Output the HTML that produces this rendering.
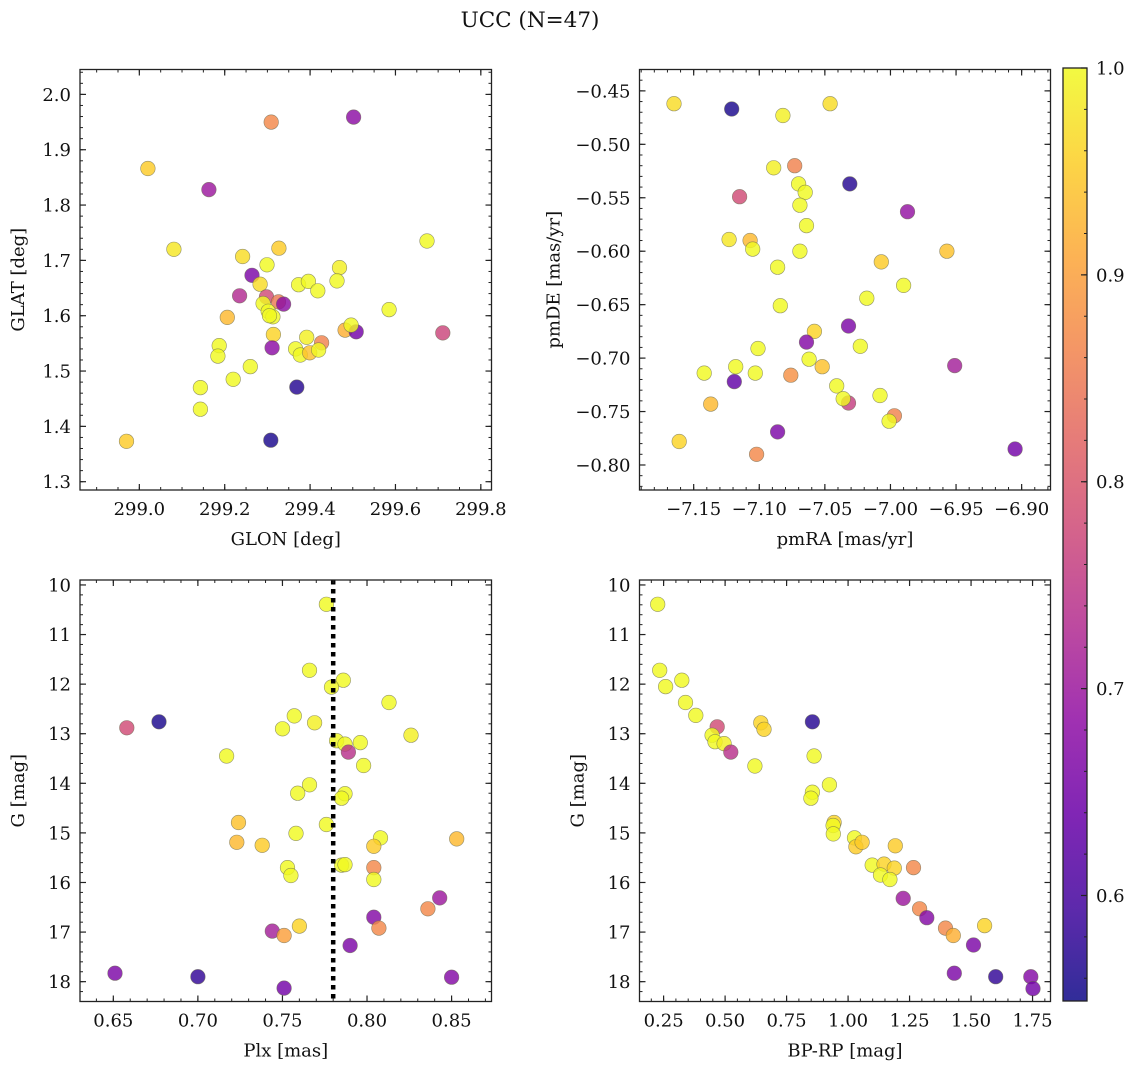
<!DOCTYPE html>
<html><head><meta charset="utf-8"><style>
html,body{margin:0;padding:0;background:#fff;}
svg text{font-family:"DejaVu Serif","Liberation Serif",serif;fill:#111;}
</style></head><body>
<svg id="fig" width="1136" height="1068" viewBox="0 0 1136 1068" xmlns="http://www.w3.org/2000/svg">
<defs><linearGradient id="plasma" x1="0" y1="1" x2="0" y2="0">
<stop offset="0" stop-color="#0d0887"/><stop offset="0.1" stop-color="#41049d"/><stop offset="0.2" stop-color="#6a00a8"/><stop offset="0.3" stop-color="#8f0da4"/><stop offset="0.4" stop-color="#b12a90"/><stop offset="0.5" stop-color="#cc4778"/><stop offset="0.6" stop-color="#e16462"/><stop offset="0.7" stop-color="#f2844b"/><stop offset="0.8" stop-color="#fca636"/><stop offset="0.9" stop-color="#fcce25"/><stop offset="1" stop-color="#f0f921"/></linearGradient></defs>
<text x="530" y="27" font-size="21.5" text-anchor="middle">UCC (N=47)</text>
</svg>
<script>
// Panel 1: GLON vs GLAT
const p1x=[299.309,299.502,299.020,299.163,299.081,299.674,299.242,299.327,299.299,299.264,299.283,299.373,299.396,299.469,299.463,299.418,299.235,299.298,299.290,299.326,299.338,299.302,299.313,299.206,299.585,299.314,299.482,299.508,299.496,299.711,299.187,299.311,299.392,299.427,299.366,299.377,299.399,299.420,299.184,299.260,299.220,299.143,299.369,299.143,298.970,299.308,299.305];
const p1y=[1.950,1.959,1.866,1.828,1.720,1.735,1.707,1.722,1.692,1.673,1.657,1.656,1.662,1.687,1.663,1.645,1.636,1.634,1.622,1.625,1.621,1.608,1.598,1.597,1.611,1.566,1.574,1.571,1.583,1.569,1.546,1.542,1.561,1.551,1.540,1.529,1.533,1.538,1.527,1.508,1.485,1.470,1.471,1.431,1.373,1.375,1.600];
const p1c=[0.87,0.68,0.95,0.70,0.98,1.0,0.97,0.95,1.0,0.66,0.97,1.0,1.0,0.99,1.0,1.0,0.73,0.78,1.0,0.85,0.68,1.0,1.0,0.93,1.0,0.96,0.92,0.65,1.0,0.77,1.0,0.68,0.99,0.86,1.0,1.0,0.94,1.0,1.0,1.0,1.0,1.0,0.57,1.0,0.95,0.56,1.0];
const p1xt=[299.0,299.2,299.4,299.6,299.8];
const p1yt=[1.3,1.4,1.5,1.6,1.7,1.8,1.9,2.0];
// Panel 2: pmRA vs pmDE
const p2x=[-7.165,-7.121,-7.082,-7.046,-7.089,-7.073,-7.031,-7.115,-7.070,-7.065,-7.069,-7.064,-6.987,-7.123,-7.107,-7.105,-7.069,-6.957,-7.086,-7.007,-6.990,-7.018,-7.084,-7.058,-7.032,-7.064,-7.023,-7.101,-7.062,-7.052,-7.118,-6.951,-7.142,-7.103,-7.076,-7.119,-7.041,-7.032,-7.036,-7.137,-7.008,-6.997,-7.001,-7.086,-7.161,-7.102,-6.905];
const p2y=[-0.462,-0.467,-0.473,-0.462,-0.522,-0.520,-0.537,-0.549,-0.537,-0.545,-0.557,-0.576,-0.563,-0.589,-0.590,-0.598,-0.600,-0.600,-0.615,-0.610,-0.632,-0.644,-0.651,-0.675,-0.670,-0.685,-0.689,-0.691,-0.701,-0.708,-0.708,-0.707,-0.714,-0.714,-0.716,-0.722,-0.726,-0.742,-0.738,-0.743,-0.735,-0.754,-0.759,-0.769,-0.778,-0.790,-0.785];
const p2c=[0.97,0.56,0.99,0.97,0.99,0.86,0.57,0.78,1.0,1.0,1.0,1.0,0.69,0.98,0.93,1.0,1.0,0.94,1.0,0.95,1.0,1.0,1.0,0.96,0.66,0.67,1.0,1.0,1.0,0.94,1.0,0.71,1.0,1.0,0.88,0.63,1.0,0.76,1.0,0.93,1.0,0.86,1.0,0.66,0.96,0.87,0.65];
const p2xt=[-7.15,-7.10,-7.05,-7.00,-6.95,-6.90];
const p2yt=[-0.80,-0.75,-0.70,-0.65,-0.60,-0.55,-0.50,-0.45];
// Panel 3: Plx vs G
const p3x=[0.776,0.766,0.786,0.779,0.813,0.757,0.769,0.750,0.826,0.658,0.677,0.782,0.787,0.796,0.789,0.717,0.798,0.766,0.759,0.787,0.785,0.724,0.776,0.758,0.723,0.738,0.808,0.804,0.853,0.753,0.755,0.785,0.787,0.804,0.804,0.843,0.836,0.804,0.807,0.760,0.744,0.751,0.790,0.651,0.700,0.751,0.850];
const p3y=[10.39,11.72,11.92,12.06,12.37,12.64,12.78,12.90,13.03,12.88,12.76,13.14,13.21,13.18,13.37,13.45,13.64,14.03,14.20,14.21,14.30,14.79,14.83,15.01,15.19,15.25,15.10,15.27,15.12,15.70,15.86,15.65,15.64,15.70,15.94,16.31,16.53,16.70,16.92,16.88,16.98,17.07,17.27,17.83,17.90,18.13,17.91];
const p3c=[1.0,1.0,1.0,1.0,1.0,1.0,0.99,1.0,0.99,0.78,0.56,1.0,1.0,1.0,0.74,1.0,1.0,1.0,1.0,1.0,1.0,0.94,1.0,1.0,0.93,0.95,1.0,0.95,0.93,1.0,1.0,1.0,1.0,0.87,1.0,0.70,0.87,0.67,0.87,0.96,0.71,0.90,0.66,0.66,0.58,0.65,0.67];
const p3xt=[0.65,0.70,0.75,0.80,0.85];
const p3yt=[10,11,12,13,14,15,16,17,18];
const plxLine=0.78;
// Panel 4: BP-RP vs G
const p4x=[0.226,0.234,0.258,0.324,0.339,0.381,0.468,0.447,0.459,0.496,0.523,0.621,0.645,0.658,0.855,0.862,0.924,0.855,0.849,0.943,0.939,0.940,1.026,1.032,1.057,1.192,1.098,1.146,1.188,1.266,1.132,1.170,1.224,1.291,1.320,1.396,1.428,1.555,1.510,1.432,1.600,1.743,1.752];
const p4y=[10.39,11.72,12.05,11.92,12.37,12.63,12.86,13.03,13.16,13.20,13.37,13.65,12.78,12.91,12.76,13.45,14.03,14.18,14.30,14.79,14.85,15.02,15.10,15.28,15.19,15.26,15.65,15.63,15.71,15.70,15.85,15.94,16.32,16.53,16.71,16.92,17.07,16.87,17.26,17.83,17.90,17.90,18.14];
const p4c=[1.0,1.0,1.0,1.0,1.0,1.0,0.78,1.0,1.0,0.99,0.74,1.0,0.96,0.96,0.57,1.0,1.0,1.0,1.0,0.96,1.0,1.0,1.0,0.95,0.95,0.95,1.0,0.96,0.96,0.87,1.0,1.0,0.70,0.87,0.67,0.87,0.92,0.96,0.66,0.66,0.58,0.67,0.65];
const p4xt=[0.25,0.50,0.75,1.00,1.25,1.50,1.75];
const p4yt=[10,11,12,13,14,15,16,17,18];
// Colorbar
const cbTicks=[0.6,0.7,0.8,0.9,1.0];
const cbMin=0.549, cbMax=1.0;

const NS="http://www.w3.org/2000/svg";
const svg=document.getElementById('fig');
function el(tag,attrs,parent){const e=document.createElementNS(NS,tag);for(const k in attrs)e.setAttribute(k,attrs[k]);(parent||svg).appendChild(e);return e;}
const stops=[[0,13,8,135],[0.1,65,4,157],[0.2,106,0,168],[0.3,143,13,164],[0.4,177,42,144],[0.5,204,71,120],[0.6,225,100,98],[0.7,242,132,75],[0.8,252,166,54],[0.9,252,206,37],[1,240,249,33]];
function plasma(v){let t=(v-cbMin)/(cbMax-cbMin);t=Math.max(0,Math.min(1,t));for(let i=1;i<stops.length;i++){if(t<=stops[i][0]){const a=stops[i-1],b=stops[i],f=(t-a[0])/(b[0]-a[0]);return `rgb(${Math.round(a[1]+f*(b[1]-a[1]))},${Math.round(a[2]+f*(b[2]-a[2]))},${Math.round(a[3]+f*(b[3]-a[3]))})`;}}return 'rgb(240,249,33)';}
function fmt(v,d){const s=Math.abs(v).toFixed(d);return (v<0?'\u2212':'')+s;}
const FS=18;

function panel(o){
  const g=el('g',{});
  
  
  const sx=v=>o.L+(v-o.x0)/(o.x1-o.x0)*(o.R-o.L);
  const sy=o.inv?(v=>o.T+(v-o.y0)/(o.y1-o.y0)*(o.B-o.T)):(v=>o.B-(v-o.y0)/(o.y1-o.y0)*(o.B-o.T));
  for(let i=0;i<o.xs.length;i++){
    const c=el('circle',{cx:sx(o.xs[i]).toFixed(1),cy:sy(o.ys[i]).toFixed(1),r:7.3,fill:plasma(o.cs[i]),'fill-opacity':0.82,stroke:'#6a6a50','stroke-width':0.6,'stroke-opacity':0.7},g);
    
    
  }
  if(o.vline!==undefined){
    const ln=el('line',{x1:sx(o.vline),x2:sx(o.vline),y1:o.T,y2:o.B,stroke:'#000','stroke-width':4.5,'stroke-dasharray':'4.5 4.5'},g);
    
    
  }
  const fr=el('rect',{x:o.L,y:o.T,width:o.R-o.L,height:o.B-o.T,fill:'none',stroke:'#222','stroke-width':1.3},g);
  
  
  for(let v=Math.ceil(o.x0/o.xm-1e-6)*o.xm; v<=o.x1; v+=o.xm){const x=sx(v);el('line',{x1:x,x2:x,y1:o.B,y2:o.B-3,stroke:'#222','stroke-width':1},g);el('line',{x1:x,x2:x,y1:o.T,y2:o.T+3,stroke:'#222','stroke-width':1},g);}
  const ylo=Math.min(o.y0,o.y1),yhi=Math.max(o.y0,o.y1);
  for(let v=Math.ceil(ylo/o.ym-1e-6)*o.ym; v<=yhi; v+=o.ym){const y=sy(v);el('line',{x1:o.L,x2:o.L+3,y1:y,y2:y,stroke:'#222','stroke-width':1},g);el('line',{x1:o.R,x2:o.R-3,y1:y,y2:y,stroke:'#222','stroke-width':1},g);}
  o.xt.forEach(v=>{const x=sx(v);el('line',{x1:x,x2:x,y1:o.B,y2:o.B-6,stroke:'#222','stroke-width':1.2},g);el('line',{x1:x,x2:x,y1:o.T,y2:o.T+6,stroke:'#222','stroke-width':1.2},g);
    const t=el('text',{x:x,y:o.B+25,'font-size':FS,'text-anchor':'middle'},g);t.textContent=fmt(v,o.xd);
    
    });
  o.yt.forEach(v=>{const y=sy(v);el('line',{x1:o.L,x2:o.L+6,y1:y,y2:y,stroke:'#222','stroke-width':1.2},g);el('line',{x1:o.R,x2:o.R-6,y1:y,y2:y,stroke:'#222','stroke-width':1.2},g);
    const t=el('text',{x:o.L-9,y:y+6.5,'font-size':FS,'text-anchor':'end'},g);t.textContent=fmt(v,o.yd);
    
    });
  const xl=el('text',{x:(o.L+o.R)/2,y:o.B+55,'font-size':FS,'text-anchor':'middle'},g);xl.textContent=o.xlab;
  
  
  const yx=o.L-(o.ylx);const yy=(o.T+o.B)/2;
  const yl=el('text',{x:yx,y:yy,'font-size':FS,'text-anchor':'middle',transform:`rotate(-90 ${yx} ${yy})`},g);yl.textContent=o.ylab;
  
  
}
panel({name:'glon-glat-panel',L:80,R:491.5,T:69.5,B:490,x0:298.861,x1:299.825,y0:1.285,y1:2.045,xs:p1x,ys:p1y,cs:p1c,xt:p1xt,yt:p1yt,xm:0.05,ym:0.02,xd:1,yd:1,xlab:'GLON [deg]',ylab:'GLAT [deg]',ylx:56});
panel({name:'pm-panel',L:639.5,R:1050.5,T:69.5,B:490,x0:-7.1913,x1:-6.878,y0:-0.8234,y1:-0.43,xs:p2x,ys:p2y,cs:p2c,xt:p2xt,yt:p2yt,xm:0.01,ym:0.01,xd:2,yd:2,xlab:'pmRA [mas/yr]',ylab:'pmDE [mas/yr]',ylx:80});
panel({name:'plx-g-panel',inv:true,L:80,R:491.5,T:580,B:1001.5,x0:0.6303,x1:0.8736,y0:9.90,y1:18.40,xs:p3x,ys:p3y,cs:p3c,xt:p3xt,yt:p3yt,xm:0.01,ym:0.2,xd:2,yd:0,xlab:'Plx [mas]',ylab:'G [mag]',ylx:56,vline:plxLine});
panel({name:'cmd-panel',inv:true,L:639.5,R:1050.5,T:580,B:1001.5,x0:0.152,x1:1.823,y0:9.90,y1:18.40,xs:p4x,ys:p4y,cs:p4c,xt:p4xt,yt:p4yt,xm:0.05,ym:0.2,xd:2,yd:0,xlab:'BP-RP [mag]',ylab:'G [mag]',ylx:56});

const cb=el('g',{});


const cT=68,cB=1001,cL=1063,cR=1087;
const cy=v=>cB-(v-cbMin)/(cbMax-cbMin)*(cB-cT);
el('rect',{x:cL,y:cT,width:cR-cL,height:cB-cT,fill:'url(#plasma)','fill-opacity':0.85,stroke:'#222','stroke-width':1.3},cb);
for(let v=0.56;v<=1.0001;v+=0.02){el('line',{x1:cR,x2:cR-3,y1:cy(v),y2:cy(v),stroke:'#222','stroke-width':1},cb);}
cbTicks.forEach(v=>{const y=cy(v);el('line',{x1:cR,x2:cR-6,y1:y,y2:y,stroke:'#222','stroke-width':1.2},cb);
  const t=el('text',{x:cR+9,y:y+6.5,'font-size':FS},cb);t.textContent=v.toFixed(1);
  
  });
</script>
</body></html>
